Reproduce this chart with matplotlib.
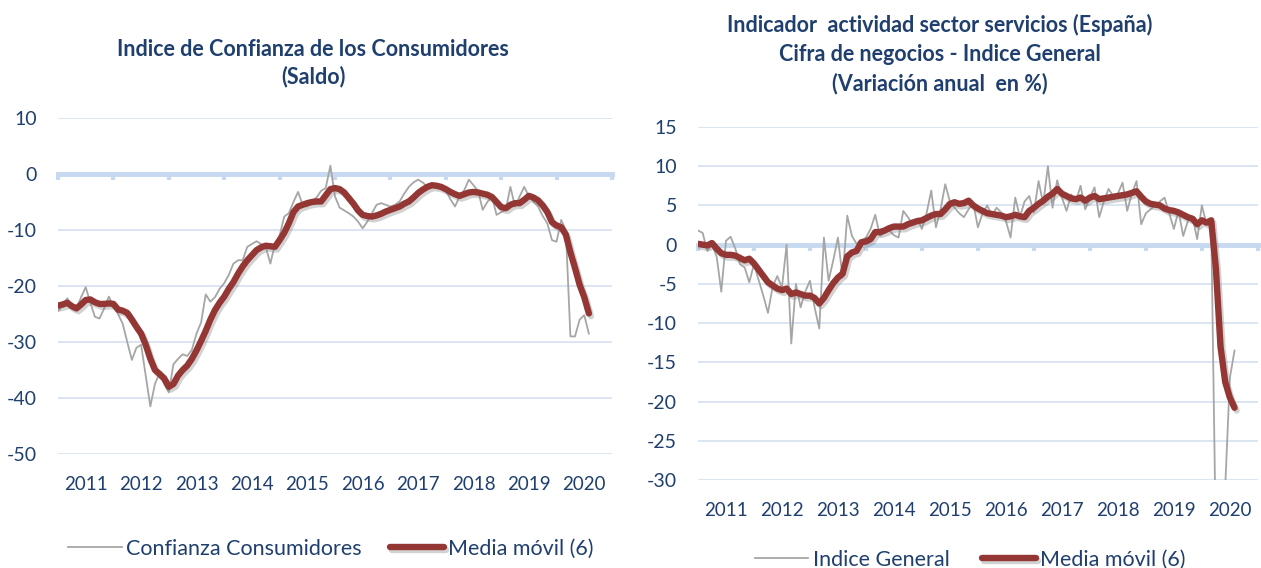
import numpy as np
import matplotlib
matplotlib.use("Agg")
import matplotlib.pyplot as plt
import matplotlib.patheffects as pe

plt.rcParams['font.family'] = ['Lato', 'DejaVu Sans']
plt.rcParams['axes.unicode_minus'] = False

# datos mensuales desde ene-2011
confianza = [
    -24.5, -23.5, -22.2, -23.5, -24, -22, -20.2, -23, -25.5, -25.8, -24, -21.9,
    -23.5, -25, -26.7, -30, -33.2, -31, -30.5, -36, -41.5, -37.5, -35.5, -37.5,
    -39, -34, -33, -32.2, -32.5, -31.4, -28.5, -26.5, -21.5, -22.8, -22, -20.5,
    -19.5, -18, -16, -15.4, -15.4, -13, -12.5, -12, -12.5, -13, -16, -12.5,
    -11, -7.6, -7, -5, -3.2, -5.5, -5.8, -4.8, -4.2, -3, -2.5, 1.5,
    -4, -6, -6.5, -7, -7.6, -8.5, -9.7, -8.5, -7, -5.5, -5.2, -5.5,
    -5.8, -5.5, -4.9, -3.5, -2.3, -1.5, -1, -1.5, -2.3, -2, -1.7, -2.2,
    -2.9, -4.5, -5.8, -4, -2.9, -1, -2, -3, -6.4, -5, -4, -7.3,
    -6.8, -6.4, -2.3, -5.8, -4, -2.3, -4, -5, -5.8, -7.5, -8.8, -11.8,
    -12.1, -8.2, -10, -29, -29, -26, -25.2, -28.5,
]
confianza_mm = [
    -23.5, -23.3, -23, -23.6, -24, -23.3, -22.5, -22.4, -22.9, -23.2, -23.2, -23.1,
    -23.2, -24.2, -24.4, -24.8, -26, -27.3, -28.5, -30.5, -33, -35, -35.7, -36.5,
    -38, -37.5, -36, -35, -34.2, -33, -31.5, -29.8, -28, -26, -24.3, -23,
    -21.9, -20.5, -19.3, -17.8, -16.5, -15.4, -14.5, -13.6, -13.1, -12.8, -12.9, -13,
    -11.8, -10.5, -8.8, -6.8, -5.8, -5.5, -5.2, -5, -4.9, -4.9, -3.8, -2.7,
    -2.5, -2.7, -3.3, -4.3, -5.3, -6.5, -7.3, -7.5, -7.6, -7.4, -7.1, -6.7,
    -6.4, -6.1, -5.8, -5.3, -4.9, -4.2, -3.4, -2.8, -2.3, -2, -2.1, -2.3,
    -2.7, -3.2, -3.6, -3.9, -3.6, -3.3, -3.2, -3.3, -3.5, -3.7, -4.1, -5,
    -5.9, -6.1, -5.5, -5.2, -5.2, -4.6, -3.9, -4.2, -4.7, -5.6, -6.8, -8.6,
    -9.2, -9.5, -10.8, -14, -16.8, -19.8, -22, -24.9,
]
servicios = [
    1.8, 1.5, -0.8, 0, -1.5, -6, 0.5, 1, -0.5, -2.5, -2.9, -4.8,
    -2.5, -4.5, -6.5, -8.7, -5.4, -4, -5.5, 0, -12.6, -5, -8, -6,
    -4.6, -8, -10.7, 0.9, -4.6, -2, 0.9, -4.2, 3.7, 1.1, 0.1, 0.5,
    0.9, 2, 3.8, 1.1, 1.5, 1.8, 1.2, 0.9, 4.3, 3.5, 2.6, 3.3,
    2, 4, 6.9, 2.2, 4.5, 7.7, 5.5, 4.7, 4, 3.5, 4.5, 5.3,
    2.2, 4, 5, 3.7, 4.7, 4.1, 3, 0.9, 6, 3.5, 5.5, 6.2,
    4.1, 8.1, 5.2, 10, 4.7, 8.2, 6, 4.3, 6.4, 5.5, 7.5, 4.5,
    6, 7.3, 3.5, 5.5, 7.1, 6.2, 6.5, 7.9, 4.3, 6.5, 8.1, 2.6,
    4, 4.5, 5, 5.5, 6, 4, 2, 4.3, 1.1, 3, 3.5, 0.7,
    5, 2.6, 2.5, -38, -36, -31, -17, -13.5,
]
servicios_mm = [
    0.1, 0, -0.1, 0.2, -0.5, -1.1, -1.3, -1.3, -1.4, -1.7, -2, -1.8,
    -2.4, -3.2, -4, -4.8, -5.2, -5.6, -5.8, -5.6, -6.3, -6.1, -6.3, -6.5,
    -6.5, -6.8, -7.5, -6.8, -5.8, -4.9, -4.2, -3.7, -1.5, -1, -0.8, 0.3,
    0.4, 0.7, 1.6, 1.6, 1.8, 2.1, 2.3, 2.3, 2.3, 2.6, 2.8, 3,
    3.1, 3.4, 3.7, 3.9, 3.9, 4.5, 5.2, 5.4, 5.2, 5.3, 5.6, 5,
    4.6, 4.3, 4, 3.9, 3.8, 3.7, 3.5, 3.6, 3.8, 3.6, 3.5, 4.3,
    4.7, 5.2, 5.6, 6.1, 6.5, 7.1, 6.5, 6.2, 5.9, 5.8, 6, 5.6,
    6, 6.2, 5.8, 5.9, 6, 6.1, 6.2, 6.3, 6.4, 6.6, 6.8, 6.1,
    5.5, 5.2, 5.1, 5, 4.6, 4.4, 4.3, 4.1, 3.8, 3.5, 3.3, 2.6,
    3.1, 2.8, 3.1, -3, -13, -17.5, -19.5, -20.8,
]

anios = list(range(2011, 2021))

AZUL = '#1F3F6E'
GRIS = '#A6A6A6'
ROJO = '#943634'
REJILLA = '#D9E4F2'
EJE0 = '#C6D9F0'


def meses_a_x(vals):
    return 2011 + np.arange(len(vals)) / 12


def dibujar(ax, serie, media, ylim, paso, lab_serie):
    ax.plot(meses_a_x(serie), serie, color=GRIS, lw=1.3, label=lab_serie)
    ax.plot(meses_a_x(media), media, color=ROJO, lw=4.6, solid_capstyle='round',
            label='Media móvil (6)',
            path_effects=[pe.SimpleLineShadow(offset=(1.5, -2), shadow_color='gray', alpha=0.35),
                          pe.Normal()])
    ax.set_xlim(2011, 2021)
    ax.set_ylim(*ylim)
    ax.set_yticks(np.arange(ylim[0], ylim[1] + 1, paso))
    ax.grid(axis='y', color=REJILLA, lw=1.3)
    ax.set_axisbelow(True)
    for s in ['top', 'right', 'left']:
        ax.spines[s].set_visible(False)
    ax.spines['bottom'].set_position(('data', 0))
    ax.spines['bottom'].set_color(EJE0)
    ax.spines['bottom'].set_linewidth(3.5)
    ax.spines['bottom'].set_zorder(1)
    ax.set_xticks(anios + [2021])
    ax.tick_params(axis='x', direction='out', length=4, width=3, color=EJE0, labelbottom=False)
    ax.tick_params(axis='y', length=0, pad=15, labelsize=14, labelcolor=AZUL)
    sec = ax.secondary_xaxis('bottom')
    sec.set_xticks([a + 0.5 for a in anios], [str(a) for a in anios])
    sec.tick_params(length=0, pad=16, labelsize=13.5, labelcolor=AZUL)
    sec.spines['bottom'].set_visible(False)


fig = plt.figure(figsize=(12.61, 5.68), dpi=100)

ax1 = fig.add_axes([0.046, 0.2007, 0.4393, 0.5915])
dibujar(ax1, confianza, confianza_mm, (-50, 10), 10, 'Confianza Consumidores')
fig.text(313 / 1261, 1 - 63 / 568, 'Indice de Confianza de los Consumidores\n(Saldo)',
         ha='center', va='center', fontsize=15.5, fontweight='bold', color=AZUL, linespacing=1.35)
fig.legend(*ax1.get_legend_handles_labels(), loc='center', bbox_to_anchor=(331 / 1261, 1 - 549 / 568),
           ncol=2, frameon=False, fontsize=15.5, handlelength=2.5, columnspacing=1.3, handletextpad=0.2,
           labelcolor=AZUL)

ax2 = fig.add_axes([0.5535, 0.155, 0.444, 0.6215])
dibujar(ax2, servicios, servicios_mm, (-30, 15), 5, 'Indice General')
fig.text(940 / 1261, 1 - 54 / 568,
         'Indicador  actividad sector servicios (España)\nCifra de negocios - Indice General\n(Variación anual  en %)',
         ha='center', va='center', fontsize=15.5, fontweight='bold', color=AZUL, linespacing=1.45)
fig.legend(*ax2.get_legend_handles_labels(), loc='center', bbox_to_anchor=(970 / 1261, 1 - 560 / 568),
           ncol=2, frameon=False, fontsize=15.5, handlelength=2.5, columnspacing=1.5, handletextpad=0.2,
           labelcolor=AZUL)

fig.savefig('out.png', dpi=100, facecolor='white')
